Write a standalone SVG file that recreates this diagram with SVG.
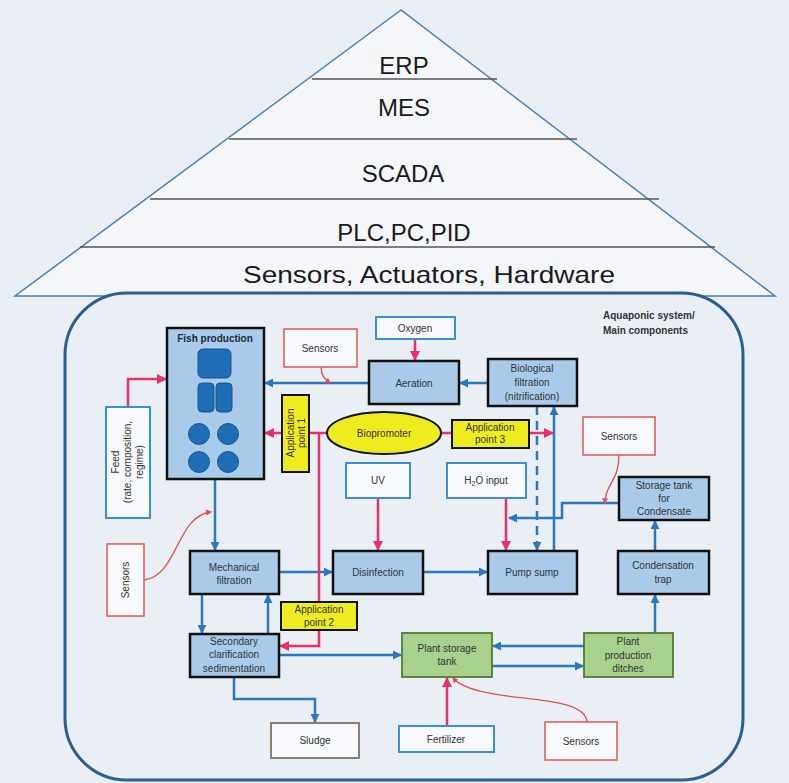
<svg xmlns="http://www.w3.org/2000/svg" width="789" height="783" viewBox="0 0 789 783">
<style>
.t{font-family:"Liberation Sans",Arial,sans-serif;font-size:10px;fill:#333;text-anchor:middle}
.b{font-weight:bold}
.py{font-family:"Liberation Sans",Arial,sans-serif;font-size:24px;fill:#1a1a1a;text-anchor:middle}
.nb{fill:#a9cbe9;stroke:#111;stroke-width:2.5}
.ng{fill:#a9d18e;stroke:#4f7a34;stroke-width:1.8}
.ny{fill:#eeec1e;stroke:#111;stroke-width:2}
.nw{fill:#f7f9fc;stroke:#3a8fd0;stroke-width:2}
.nr{fill:#f7f9fc;stroke:#e06060;stroke-width:1.6}
.ns{fill:#f7f9fc;stroke:#8a7d74;stroke-width:2}
.fi{fill:#1f6db5;stroke:#17568f;stroke-width:1}
.cb{fill:none;stroke:#2a78bf;stroke-width:2.5}
.cp{fill:none;stroke:#e5326a;stroke-width:2.5}
.cr{fill:none;stroke:#e05050;stroke-width:1.3}
</style>
<defs>
<marker id="ab" viewBox="0 0 10 10" refX="9" refY="5" markerWidth="9" markerHeight="9" markerUnits="userSpaceOnUse" orient="auto"><path d="M0,0 L10,5 L0,10 z" fill="#2a78bf"/></marker>
<marker id="ap" viewBox="0 0 10 10" refX="9" refY="5" markerWidth="10" markerHeight="10" markerUnits="userSpaceOnUse" orient="auto"><path d="M0,0 L10,5 L0,10 z" fill="#e5326a"/></marker>
<marker id="ar" viewBox="0 0 10 10" refX="8" refY="5" markerWidth="6" markerHeight="6" markerUnits="userSpaceOnUse" orient="auto"><path d="M0,0 L10,5 L0,10 z" fill="#e05050"/></marker>
</defs>
<rect width="789" height="783" fill="#eaeff6"/>

<g id="pyramid">
<polygon points="401,10 15,296 775,296" fill="#f4f6fa" stroke="#4a7fb0" stroke-width="1.5"/>
<g stroke="#555" stroke-width="1.5">
<line x1="312" y1="79" x2="497" y2="79"/>
<line x1="229" y1="139" x2="577" y2="139"/>
<line x1="150" y1="199" x2="659" y2="199"/>
<line x1="80" y1="247" x2="715" y2="247"/>
</g>
<text class="py" x="404" y="74">ERP</text>
<text class="py" x="404" y="116">MES</text>
<text class="py" x="403" y="182">SCADA</text>
<text class="py" x="404" y="241">PLC,PC,PID</text>
<text class="py" x="429" y="283" textLength="372" lengthAdjust="spacingAndGlyphs">Sensors, Actuators, Hardware</text>
</g>

<g id="container">
<rect x="65" y="293" width="678" height="487" rx="62" fill="#eaeff6" stroke="#2c5f8e" stroke-width="3"/>
<text class="t b" x="603" y="319" text-anchor="start" style="text-anchor:start">Aquaponic system/</text>
<text class="t b" x="603" y="334" style="text-anchor:start">Main components</text>
</g>

<g id="connectors">
<path class="cb" d="M369,383 L265,383" marker-end="url(#ab)"/>
<path class="cb" d="M488,383 L460,383" marker-end="url(#ab)"/>
<path class="cb" d="M215,479 L215,550" marker-end="url(#ab)"/>
<path class="cb" d="M202,594 L202,633" marker-end="url(#ab)"/>
<path class="cb" d="M268,634 L268,595" marker-end="url(#ab)"/>
<path class="cb" d="M279,572 L332,572" marker-end="url(#ab)"/>
<path class="cb" d="M423,572 L487,572" marker-end="url(#ab)"/>
<path class="cb" d="M554,551 L554,407" marker-end="url(#ab)"/>
<path class="cb" d="M537,406 L537,550" stroke-dasharray="9,6" marker-end="url(#ab)"/>
<path class="cb" d="M279,655 L401,655" marker-end="url(#ab)"/>
<path class="cb" d="M584,646 L493,646" marker-end="url(#ab)"/>
<path class="cb" d="M492,666 L583,666" marker-end="url(#ab)"/>
<path class="cb" d="M655,633 L655,595" marker-end="url(#ab)"/>
<path class="cb" d="M655,551 L655,521" marker-end="url(#ab)"/>
<path class="cb" d="M619,503 L562,503 L562,518 L509,518" marker-end="url(#ab)"/>
<path class="cb" d="M234,677 L234,699 L315,699 L315,722" marker-end="url(#ab)"/>
<path class="cp" d="M128,407 L128,379 L166,379" marker-end="url(#ap)"/>
<path class="cp" d="M415,339 L415,360" marker-end="url(#ap)"/>
<path class="cp" d="M327,433 L265,433" marker-end="url(#ap)"/>
<path class="cp" d="M319,433 L319,646 L280,646" marker-end="url(#ap)"/>
<path class="cp" d="M441,433 L553,433" marker-end="url(#ap)"/>
<path class="cp" d="M378,498 L378,550" marker-end="url(#ap)"/>
<path class="cp" d="M506,498 L506,550" marker-end="url(#ap)"/>
<path class="cp" d="M447,726 L447,678" marker-end="url(#ap)"/>
<path class="cr" d="M321,367 C321,376 325,379 330,383" marker-end="url(#ar)"/>
<path class="cr" d="M144,580 C178,576 176,516 211,512" marker-end="url(#ar)"/>
<path class="cr" d="M619,455 C619,482 605,484 605,503" marker-end="url(#ar)"/>
<path class="cr" d="M587,722 C584,690 478,706 453,678" marker-end="url(#ar)"/>
</g>

<g id="fish">
<rect class="nb" x="167" y="328" width="97" height="151"/>
<text class="t b" x="215" y="342" style="fill:#1a2a3a">Fish production</text>
<rect class="fi" x="198" y="349" width="33" height="29" rx="5"/>
<rect class="fi" x="198" y="383" width="16" height="29" rx="4"/>
<rect class="fi" x="216" y="383" width="16" height="29" rx="4"/>
<circle class="fi" cx="199" cy="434" r="10.5"/>
<circle class="fi" cx="228" cy="434" r="10.5"/>
<circle class="fi" cx="199" cy="462" r="10.5"/>
<circle class="fi" cx="228" cy="462" r="10.5"/>
</g>
<g id="feed">
<rect class="nw" x="106" y="407" width="44" height="111"/>
<text class="t" transform="translate(128,462) rotate(-90)"><tspan x="0" y="-9">Feed</tspan><tspan x="0" y="3">(rate, composition,</tspan><tspan x="0" y="15">regime)</tspan></text>
</g>
<g id="sensors1">
<rect class="nr" x="284" y="329" width="73" height="38"/>
<text class="t" x="320" y="352">Sensors</text>
</g>
<g id="oxygen">
<rect class="nw" x="376" y="317" width="79" height="22"/>
<text class="t" x="415" y="332">Oxygen</text>
</g>
<g id="aeration">
<rect class="nb" x="369" y="361" width="90" height="43"/>
<text class="t" x="414" y="387">Aeration</text>
</g>
<g id="biofilt">
<rect class="nb" x="488" y="359" width="89" height="47"/>
<text class="t" x="532" y="372">Biological</text>
<text class="t" x="532" y="386">filtration</text>
<text class="t" x="532" y="400">(nitrification)</text>
</g>
<g id="app1">
<rect class="ny" x="282" y="395" width="27" height="77"/>
<text class="t" transform="translate(296,433) rotate(-90)"><tspan x="0" y="-2">Application</tspan><tspan x="0" y="9">point 1</tspan></text>
</g>
<g id="biopromoter">
<ellipse cx="384" cy="433" rx="57" ry="21" fill="#eeec1e" stroke="#111" stroke-width="2"/>
<text class="t" x="384" y="437">Biopromoter</text>
</g>
<g id="app3">
<rect class="ny" x="452" y="420" width="77" height="28"/>
<text class="t" x="490" y="431">Application</text>
<text class="t" x="490" y="443">point 3</text>
</g>
<g id="sensors2">
<rect class="nr" x="583" y="417" width="72" height="38"/>
<text class="t" x="619" y="440">Sensors</text>
</g>
<g id="storage">
<rect class="nb" x="619" y="477" width="90" height="43"/>
<text class="t" x="664" y="489">Storage tank</text>
<text class="t" x="664" y="502">for</text>
<text class="t" x="664" y="515">Condensate</text>
</g>
<g id="uv">
<rect class="nw" x="346" y="463" width="64" height="35"/>
<text class="t" x="378" y="484">UV</text>
</g>
<g id="h2o">
<rect class="nw" x="447" y="463" width="79" height="35"/>
<text class="t" x="486" y="484">H<tspan font-size="7" dy="2">2</tspan><tspan dy="-2">O input</tspan></text>
</g>
<g id="sensors3">
<rect class="nr" x="107" y="544" width="37" height="72"/>
<text class="t" transform="translate(129,580) rotate(-90)">Sensors</text>
</g>
<g id="mech">
<rect class="nb" x="190" y="551" width="89" height="43"/>
<text class="t" x="234" y="571">Mechanical</text>
<text class="t" x="234" y="584">filtration</text>
</g>
<g id="disinfection">
<rect class="nb" x="333" y="551" width="90" height="43"/>
<text class="t" x="378" y="576">Disinfection</text>
</g>
<g id="pump">
<rect class="nb" x="488" y="551" width="89" height="43"/>
<text class="t" x="532" y="576">Pump sump</text>
</g>
<g id="condtrap">
<rect class="nb" x="618" y="551" width="91" height="43"/>
<text class="t" x="663" y="569">Condensation</text>
<text class="t" x="663" y="583">trap</text>
</g>
<g id="app2">
<rect class="ny" x="281" y="602" width="76" height="28"/>
<text class="t" x="319" y="613">Application</text>
<text class="t" x="319" y="626">point 2</text>
</g>
<g id="secondary">
<rect class="nb" x="190" y="634" width="89" height="43"/>
<text class="t" x="234" y="645">Secondary</text>
<text class="t" x="234" y="658">clarification</text>
<text class="t" x="234" y="672">sedimentation</text>
</g>
<g id="plantstorage">
<rect class="ng" x="402" y="633" width="90" height="44"/>
<text class="t" x="447" y="652">Plant storage</text>
<text class="t" x="447" y="665">tank</text>
</g>
<g id="ditches">
<rect class="ng" x="584" y="633" width="89" height="44"/>
<text class="t" x="628" y="645">Plant</text>
<text class="t" x="628" y="659">production</text>
<text class="t" x="628" y="672">ditches</text>
</g>
<g id="sludge">
<rect class="ns" x="271" y="723" width="88" height="35"/>
<text class="t" x="315" y="744">Sludge</text>
</g>
<g id="fertilizer">
<rect class="nw" x="399" y="726" width="95" height="26"/>
<text class="t" x="446" y="743">Fertilizer</text>
</g>
<g id="sensors4">
<rect class="nr" x="545" y="722" width="72" height="38"/>
<text class="t" x="581" y="745">Sensors</text>
</g>
</svg>
